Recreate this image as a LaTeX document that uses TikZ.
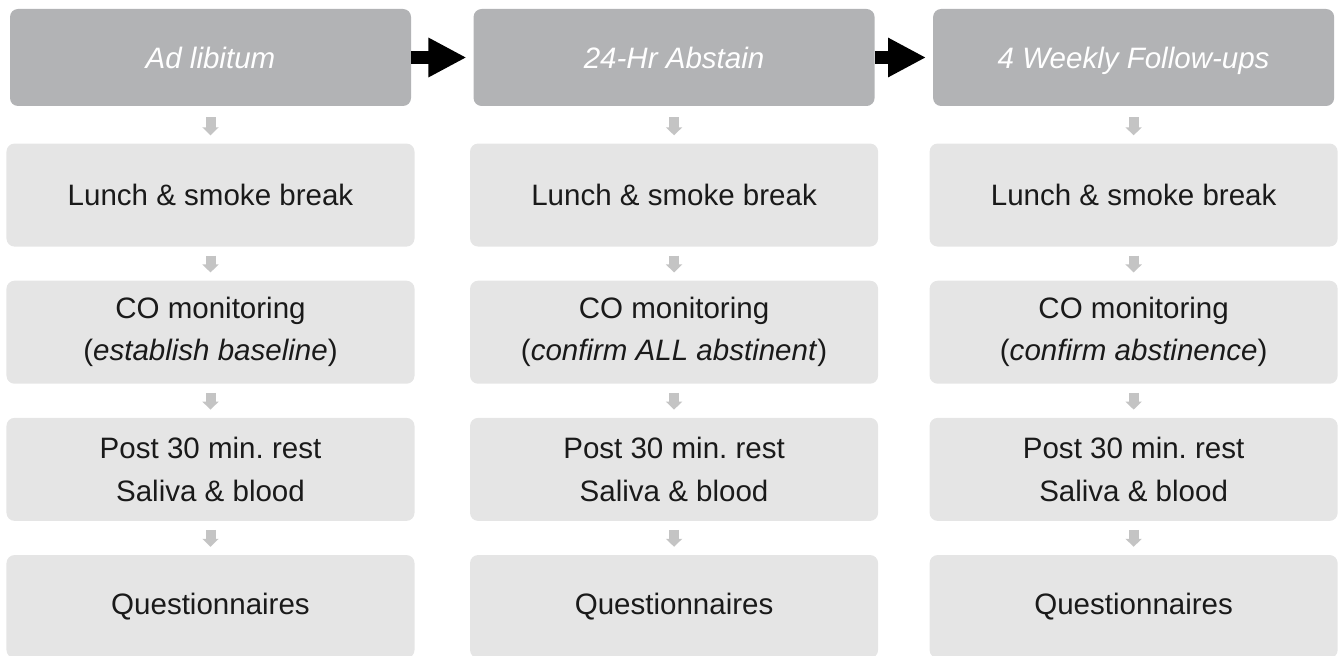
\documentclass[tikz,border=0pt]{standalone}
\usepackage{fontspec}
\setmainfont{Liberation Sans}
\usetikzlibrary{positioning,arrows.meta}
\definecolor{HeadGray}{RGB}{178,179,181}
\definecolor{StepGray}{RGB}{229,229,229}
\definecolor{ArrowGray}{RGB}{196,196,196}
\definecolor{DarkText}{RGB}{26,26,26}
\frenchspacing

\begin{document}
\begin{tikzpicture}[
    node distance=0.84cm,
    head/.style={rectangle, rounded corners=0.2cm, fill=HeadGray,
        minimum width=10.025cm, minimum height=2.425cm, font=\fontsize{21}{30}\selectfont\itshape, text=white,
        text height=0.53cm, text depth=0cm},
    box/.style={rectangle, rounded corners=0.2cm, fill=StepGray,
        minimum width=10.2cm, minimum height=2.575cm, font=\fontsize{21}{30}\selectfont, text=DarkText, align=center},
    smallarrow/.style={ArrowGray, line width=0.25cm, -{Triangle[length=0.2cm,width=0.4cm]},
        shorten <=0.22cm, shorten >=0.2cm},
    bigarrow/.style={black, line width=0.33cm, -{Triangle[length=0.95cm,width=0.92cm]}, shorten >=0.17cm}
]
\useasboundingbox (0,0) rectangle (33.55,-16.4);
% headers
\node[head] (hd1) at (5.2625,-1.4375) {Ad libitum};
\node[head, right=1.55cm of hd1] (hd2) {24-Hr Abstain};
\node[head, right=1.45cm of hd2] (hd3) {4 Weekly Follow-ups};
\draw[bigarrow] (hd1) -- (hd2);
\draw[bigarrow] (hd2) -- (hd3);
% column 1
\node[box, below=0.925cm of hd1] (lu1) {Lunch \& smoke break};
\node[box, below=of lu1] (co1) {CO monitoring\\(\textit{establish baseline})};
\node[box, below=of co1] (ps1) {Post 30 min. rest\\Saliva \& blood};
\node[box, below=of ps1] (qu1) {Questionnaires};
\draw[smallarrow, shorten <=0.28cm] (hd1) -- (lu1);
\draw[smallarrow] (lu1) -- (co1);
\draw[smallarrow] (co1) -- (ps1);
\draw[smallarrow] (ps1) -- (qu1);
% column 2
\node[box, below=0.925cm of hd2] (lu2) {Lunch \& smoke break};
\node[box, below=of lu2] (co2) {CO monitoring\\(\textit{confirm ALL abstinent})};
\node[box, below=of co2] (ps2) {Post 30 min. rest\\Saliva \& blood};
\node[box, below=of ps2] (qu2) {Questionnaires};
\draw[smallarrow, shorten <=0.28cm] (hd2) -- (lu2);
\draw[smallarrow] (lu2) -- (co2);
\draw[smallarrow] (co2) -- (ps2);
\draw[smallarrow] (ps2) -- (qu2);
% column 3
\node[box, below=0.925cm of hd3] (lu3) {Lunch \& smoke break};
\node[box, below=of lu3] (co3) {CO monitoring\\(\textit{confirm abstinence})};
\node[box, below=of co3] (ps3) {Post 30 min. rest\\Saliva \& blood};
\node[box, below=of ps3] (qu3) {Questionnaires};
\draw[smallarrow, shorten <=0.28cm] (hd3) -- (lu3);
\draw[smallarrow] (lu3) -- (co3);
\draw[smallarrow] (co3) -- (ps3);
\draw[smallarrow] (ps3) -- (qu3);
\end{tikzpicture}
\end{document}
